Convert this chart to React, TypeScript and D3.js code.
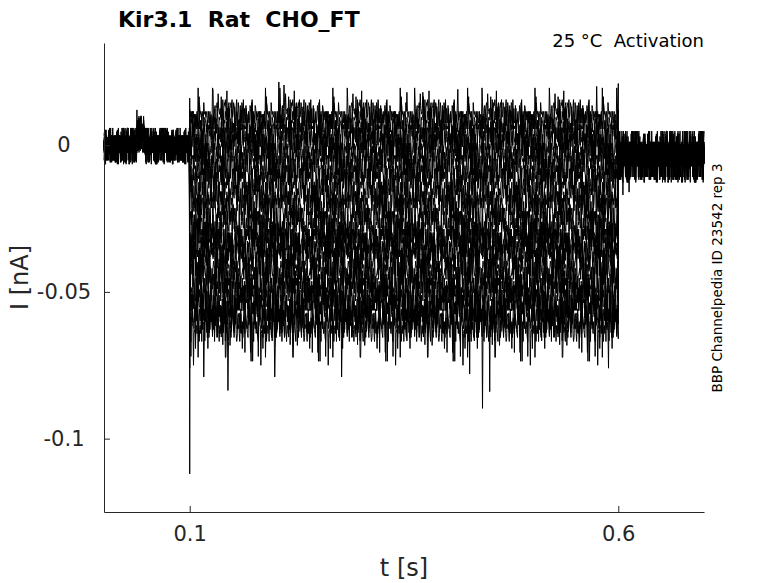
import { useRef, useEffect } from 'react'
import * as d3 from 'd3'

// protocol timing (s)
const STEP_ON = 0.1
const STEP_OFF = 0.6
const T_END = 0.7
const DT = 0.0006

// steady current of each sweep during the step (nA)
const LEVELS = [
  0.0105, 0.0075, 0.004, 0.0005, -0.0035, -0.008, -0.0125, -0.017, -0.0215, -0.026,
  -0.031, -0.0345, -0.0375, -0.042, -0.0465, -0.0505, -0.055, -0.0585, -0.0615,
]

// how noisy each sweep looks relative to the baseline noise
const NOISE_GAIN = [
  1.0, 1.0, 1.0, 1.05, 1.05, 1.1, 1.1, 1.1, 1.15, 1.15,
  1.2, 1.2, 1.2, 1.25, 1.25, 1.3, 1.3, 1.35, 1.35,
]

// value right at the step onset (capacitive transient), per sweep
const ONSET_PEAKS = [
  0.016, 0.012, 0.006, -0.002, -0.008, -0.012, -0.018, -0.022, -0.027, -0.031,
  -0.036, -0.04, -0.044, -0.048, -0.053, -0.058, -0.064, -0.076, -0.112,
]

// value right at the step end, per sweep
const OFFSET_PEAKS = [
  0.021, 0.012, 0.006, 0.002, -0.004, -0.01, -0.014, -0.018, -0.022, -0.028,
  -0.032, -0.036, -0.04, -0.044, -0.048, -0.052, -0.057, -0.061, -0.066,
]

// recording noise in pA, shared by all sweeps (each one reads it in its own order)
const NOISE = [
  2, -1, 3, -3, 0, 4, -2, -4, 1, 3, -1, 7, -3, 0, 2, -2, -5, 1, 4, -1,
  0, 3, -4, 2, -2, 9, -1, -3, 1, 0, -2, 4, -8, 2, 3, -1, -3, 0, 5, -2,
  1, -4, 3, -1, 2, -9, 0, 4, -2, 1, 3, -3, -1, 5, 0, -4, 2, -2, 4, -1,
  -3, 1, 8, -2, 0, -4, 3, 1, -8, 2, -1, 3, -2, 0, 4, -3, 1, -1, 5, -4,
  2, 0, -2, 3, -10, 1, 4, -1, -3, 2, 0, -2, 5, -3, 1, -1, 3, -4, 0, 2,
  -2, 4, -1, -8, 3, 1, -3, 2, 0, 9, -2, -1, 4, -4, 1, -2, 3, 0, -3, 5,
  -1, 2, -4, 1, 3, -2, 0, -9, 4, -1, 2,
]
const STRIDES = [3, 5, 7, 11, 13, 17, 19, 23, 29, 31, 37, 41, 43, 47, 53, 59, 61, 67, 71]

// baseline bump before the step: [start, end, shift nA]
const PRE_BUMP = [0.039, 0.047, 0.004]
const PRE_GAIN = 0.65
const TAIL_MEAN = -0.0035
const TAIL_GAIN = 0.92

// isolated large excursions: [sweep, t (s), I (nA)]
const SPIKES: [number, number, number][] = [
  [18, 0.1166, -0.079],
  [18, 0.1445, -0.0836],
  [17, 0.1993, -0.079],
  [18, 0.2774, -0.079],
  [16, 0.4266, -0.078],
  [18, 0.4417, -0.0897],
  [17, 0.45, -0.084],
  [18, 0.5886, -0.076],
  [0, 0.1273, 0.019],
  [0, 0.204, 0.0215],
  [0, 0.2098, 0.0205],
  [0, 0.3532, 0.018],
  [0, 0.3718, 0.018],
  [0, 0.4126, 0.019],
  [0, 0.5746, 0.02],
  [3, 0.0385, 0.012],
  [5, 0.0435, 0.01],
  [9, 0.6052, -0.017],
  [12, 0.6125, -0.016],
]

const X_TICKS = [0.1, 0.6]
const X_TICK_LABELS = ['0.1', '0.6']
const Y_TICKS = [-0.1, -0.05, 0]
const Y_TICK_LABELS = ['-0.1', '-0.05', '0']

interface Sample {
  t: number
  v: number
}

const buildSweep = (j: number): Sample[] => {
  const pts: Sample[] = []
  const n = Math.round(T_END / DT)
  const noiseAt = (i: number) => NOISE[(i * STRIDES[j] + j * 17) % NOISE.length] * 0.001
  let onsetDone = false
  let offsetDone = false
  for (let i = 0; i <= n; i++) {
    const t = i * DT
    if (t < STEP_ON) {
      const shift = t >= PRE_BUMP[0] && t <= PRE_BUMP[1] ? PRE_BUMP[2] : 0
      pts.push({ t, v: shift + noiseAt(i) * PRE_GAIN })
    } else if (t < STEP_OFF) {
      if (!onsetDone) {
        pts.push({ t: STEP_ON, v: ONSET_PEAKS[j] })
        onsetDone = true
      }
      pts.push({ t, v: LEVELS[j] + noiseAt(i) * NOISE_GAIN[j] })
    } else {
      if (!offsetDone) {
        pts.push({ t: STEP_OFF, v: OFFSET_PEAKS[j] })
        offsetDone = true
      }
      pts.push({ t, v: TAIL_MEAN + noiseAt(i) * TAIL_GAIN })
    }
  }
  SPIKES.filter((s) => s[0] === j).forEach((s) => {
    const k = d3.minIndex(pts, (p) => Math.abs(p.t - s[1]))
    pts[k] = { t: pts[k].t, v: s[2] }
  })
  return pts
}

const width = 778
const height = 583
const margin = { top: 43, right: 74, bottom: 71, left: 104 }
const font = 'DejaVu Sans, sans-serif'
const axisColor = '#262626'

const App = () => {
  const svgRef = useRef<SVGSVGElement>(null)

  useEffect(() => {
    document.body.style.margin = '0'
    if (!svgRef.current) return
    const svg = d3.select(svgRef.current)
    svg.selectAll('*').remove()

    const x = d3.scaleLinear().domain([0, T_END]).range([margin.left, width - margin.right])
    const y = d3.scaleLinear().domain([-0.125, 0.0348]).range([height - margin.bottom, margin.top])

    svg.append('rect').attr('width', width).attr('height', height).attr('fill', '#fff')

    // sweeps
    const line = d3.line<Sample>().x((d) => x(d.t)).y((d) => y(d.v))
    const traces = svg.append('g')
    LEVELS.forEach((_, j) => {
      traces
        .append('path')
        .datum(buildSweep(j))
        .attr('fill', 'none')
        .attr('stroke', '#000')
        .attr('stroke-width', 1)
        .attr('d', line)
    })

    // axes (ticks point inward)
    const xAxis = svg
      .append('g')
      .attr('transform', `translate(0,${height - margin.bottom})`)
      .call(
        d3.axisBottom(x)
          .tickValues(X_TICKS)
          .tickFormat((_, i) => X_TICK_LABELS[i])
          .tickSizeInner(-6)
          .tickSizeOuter(0)
          .tickPadding(14)
      )
    const yAxis = svg
      .append('g')
      .attr('transform', `translate(${margin.left},0)`)
      .call(
        d3.axisLeft(y)
          .tickValues(Y_TICKS)
          .tickFormat((_, i) => Y_TICK_LABELS[i])
          .tickSizeInner(-6)
          .tickSizeOuter(0)
          .tickPadding(10)
      )
    ;[xAxis, yAxis].forEach((a) => {
      a.select('.domain').attr('stroke', axisColor)
      a.selectAll('line').attr('stroke', axisColor)
      a.selectAll('text')
        .attr('fill', axisColor)
        .style('font-family', font)
        .style('font-size', '21px')
    })
    xAxis.selectAll('text').attr('dy', '0.71em')
    yAxis.selectAll('text').attr('text-anchor', 'middle').attr('x', -40)

    // labels
    svg.append('text')
      .attr('x', (margin.left + width - margin.right) / 2)
      .attr('y', 576)
      .attr('text-anchor', 'middle')
      .attr('fill', axisColor)
      .style('font-family', font)
      .style('font-size', '24px')
      .text('t [s]')

    svg.append('text')
      .attr('transform', `translate(28,${(margin.top + height - margin.bottom) / 2}) rotate(-90)`)
      .attr('text-anchor', 'middle')
      .attr('fill', axisColor)
      .style('font-family', font)
      .style('font-size', '24px')
      .text('I [nA]')

    svg.append('text')
      .attr('x', 118)
      .attr('y', 27)
      .attr('fill', '#000')
      .style('font-family', font)
      .style('font-size', '22px')
      .style('font-weight', 'bold')
      .style('white-space', 'pre')
      .text('Kir3.1  Rat  CHO_FT')

    svg.append('text')
      .attr('x', width - margin.right)
      .attr('y', 47)
      .attr('text-anchor', 'end')
      .attr('fill', '#000')
      .style('font-family', font)
      .style('font-size', '18px')
      .style('white-space', 'pre')
      .text('25 °C  Activation')

    svg.append('text')
      .attr('transform', `translate(722,278) rotate(-90)`)
      .attr('text-anchor', 'middle')
      .attr('fill', '#000')
      .style('font-family', font)
      .style('font-size', '13.5px')
      .text('BBP Channelpedia ID 23542 rep 3')
  }, [])

  return <svg ref={svgRef} width={width} height={height} style={{ display: 'block' }} />
}

export default App
